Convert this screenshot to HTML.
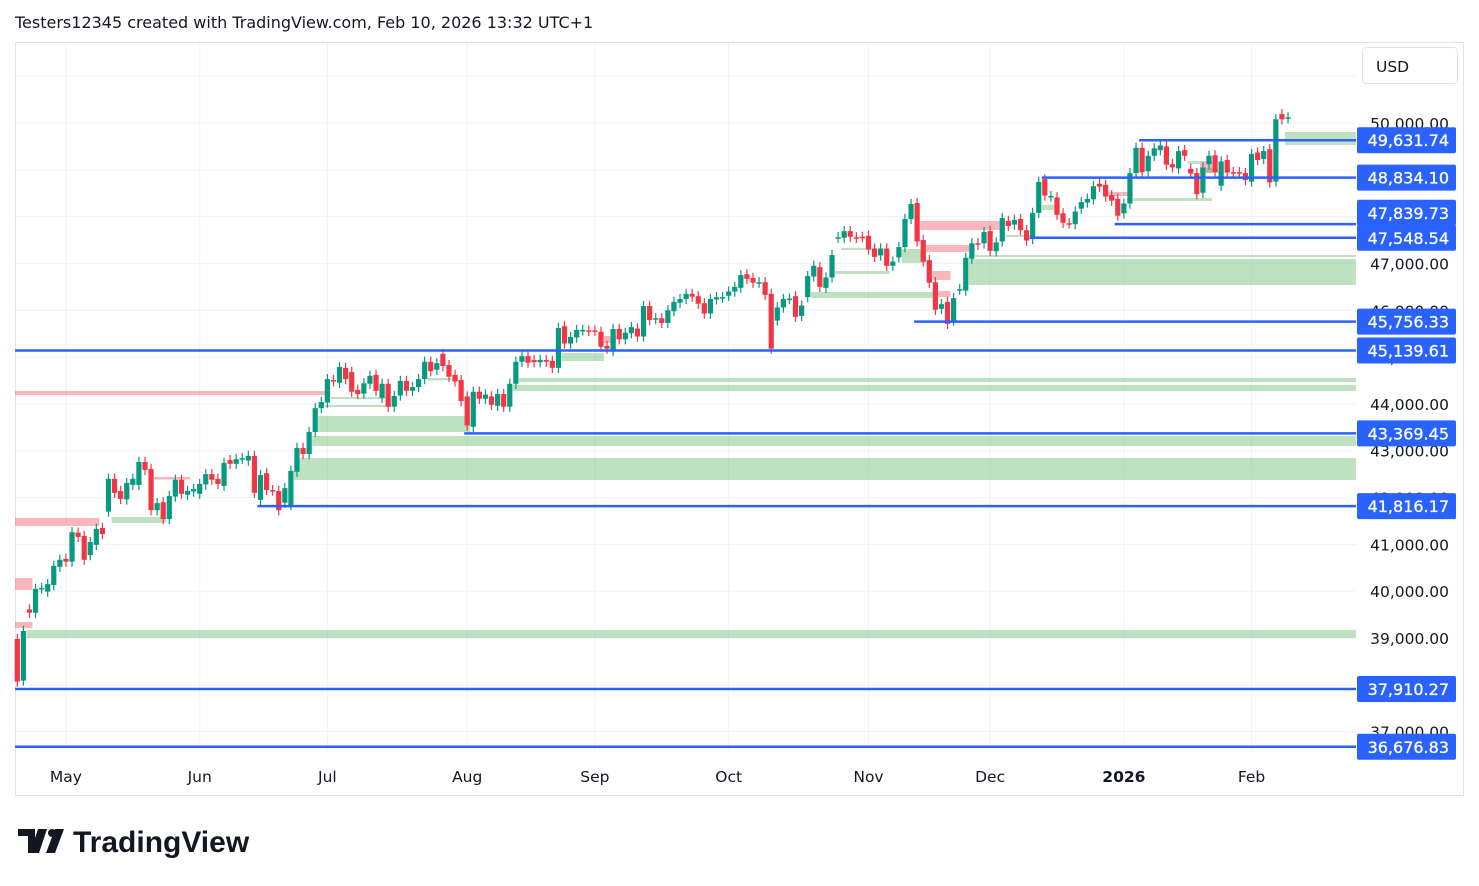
<!DOCTYPE html>
<html><head><meta charset="utf-8"><style>
html,body{margin:0;padding:0;background:#fff;width:1479px;height:886px;overflow:hidden}
svg{display:block}
text{font-family:"DejaVu Sans","Liberation Sans",sans-serif}
</style></head><body>
<svg id="c" width="1479" height="886" xmlns="http://www.w3.org/2000/svg">
<text x="15" y="28" font-size="16" fill="#131722">Testers12345 created with TradingView.com, Feb 10, 2026 13:32 UTC+1</text>
<rect x="15.5" y="42.5" width="1448" height="753" fill="#fff" stroke="#e0e3eb"/>
<g id="grid"></g>
<g id="zones"></g>
<g id="candles"></g>
<g id="levels"></g>
<g id="axis"></g>
<g id="taxis"></g>
<rect x="1362.5" y="47.5" width="95" height="36" rx="4" fill="#fff" stroke="#e0e3eb"/>
<text x="1376" y="72" font-size="15.5" fill="#131722">USD</text>
<g>
<path d="M18 829h17v24h-7v-17h-10z M38 829h9l-8 24h-9z" fill="#131722"/>
<circle cx="52" cy="833" r="4" fill="#131722"/>
<path d="M55 829h9l-9 24h-9z" fill="#131722"/>
<text x="73" y="852" font-size="30" font-weight="bold" fill="#131722" style="font-family:'Liberation Sans',sans-serif">TradingView</text>
</g>
</svg>
<script>
const opens=[38980,38090,39610,39540,40060,39990,40130,40520,40690,40630,41250,41180,40770,40990,41350,41700,42400,42140,41960,42270,42270,42760,42610,41730,41900,41540,42020,42380,42060,42130,42080,42280,42500,42400,42250,42800,42720,42830,42790,42890,41950,42520,42160,42140,41890,41840,42550,43060,42930,43400,43910,44030,44510,44450,44770,44680,44300,44220,44430,44620,44130,44430,43940,44180,44490,44280,44360,44530,44900,44730,45070,44830,44620,44510,44160,43510,44260,44110,44160,43960,44210,43940,44430,44900,45020,44940,44890,44940,44920,44770,45660,45290,45420,45570,45570,45570,45540,45240,45130,45600,45380,45510,45610,45440,46090,45810,45830,45730,45980,46160,46240,46350,46300,46150,45930,46230,46270,46310,46400,46480,46770,46690,46590,46600,46350,45780,46060,46240,46300,45880,46280,46720,46920,46480,46700,47550,47550,47690,47560,47570,47590,47320,47170,47320,46950,47130,47350,47950,48290,47500,47070,46600,46030,46180,45780,46440,46420,47100,47430,47430,47690,47260,47470,47910,47830,47950,47710,47520,48080,48800,48430,48410,48070,47860,47840,48170,48300,48370,48700,48680,48460,48380,48070,48280,48930,49470,48970,49300,49420,49500,49120,49030,49420,49020,48930,48510,49120,49310,48660,49210,48950,48950,48930,48750,49370,49230,49440,48750,50190,50100];
const closes=[38070,39150,39540,40050,40070,40150,40540,40670,40630,41260,41160,40670,41050,41330,41220,42400,42100,41970,42310,42400,42760,42590,41730,41880,41540,42030,42380,42080,42140,42180,42290,42500,42380,42290,42740,42720,42820,42840,42890,42100,42480,42160,42150,41730,42200,42570,43060,42930,43400,43910,44040,44530,44480,44790,44530,44260,44210,44440,44600,44280,44430,43940,44170,44490,44280,44360,44530,44900,44700,44870,44810,44580,44480,44060,43540,44260,44110,44200,43980,44210,43940,44430,44900,45020,44880,44890,44940,44900,44770,45620,45290,45430,45580,45580,45560,45560,45220,45180,45600,45380,45520,45640,45440,46090,45790,45830,45730,46000,46180,46240,46350,46290,46140,45930,46240,46280,46280,46400,46500,46750,46670,46590,46600,46330,45180,46060,46240,46250,45860,46100,46730,46950,46500,46700,47180,47560,47690,47570,47550,47560,47300,47140,47320,46950,47040,47350,47950,48270,47470,47040,46590,46010,46130,45710,46260,46450,47120,47430,47400,47670,47270,47450,47970,47800,47930,47710,47490,48080,48740,48450,48440,48040,47870,47850,48110,48310,48380,48650,48640,48430,48340,48020,48280,48930,49470,48950,49300,49460,49520,49110,49050,49400,49300,48920,48480,49050,49300,48950,49180,48940,48940,48930,48780,49340,49210,49400,48730,50080,50080,50120];
const levelValues=[49631.74,48834.10,47839.73,47548.54,45756.33,45139.61,43369.45,41816.17,37910.27,36676.83];
const levelLabels=["49,631.74","48,834.10","47,839.73","47,548.54","45,756.33","45,139.61","43,369.45","41,816.17","37,910.27","36,676.83"];
const levelStart=[185,169,181,167,148,0,74,40,0,0];
const tickValues=[50000,49000,48000,47000,46000,45000,44000,43000,42000,41000,40000,39000,38000,37000];
const tickLabels=["50,000.00","49,000.00","48,000.00","47,000.00","46,000.00","45,000.00","44,000.00","43,000.00","42,000.00","41,000.00","40,000.00","39,000.00","38,000.00","37,000.00"];
const monthLabels=["May","Jun","Jul","Aug","Sep","Oct","Nov","Dec","2026","Feb"];
const monthIndex=[8,30,51,74,95,117,140,160,182,203];
const zoneStart=[2,0,0,0,16,23,0,46,50,49,51,52,68,83,82,90,131,135,136,146,149,150,151,152,158,157,163,169,180,184,193,195,196,209,97];
const zoneEnd=[-1,2,2,13,24,28,51,-1,74,-1,61,60,72,-1,-1,96,151,143,140,149,162,157,153,153,-1,-1,166,171,183,196,194,196,197,-1,98];
const zoneTop=[39170,40281,39341,41563,41584,42439,44276,42844,43742,43314,43977,44147,44553,44553,44404,45087,46390,46839,47330,47309,47907,47394,46839,46412,47180,47095,47608,48249,48526,48398,49188,49188,49039,49808,45450];
const zoneBot=[39000,40025,39213,41392,41456,42385,44190,42375,43400,43101,43934,44105,44500,44468,44276,44916,46262,46775,47287,47010,47714,47245,46647,46283,47138,46540,47565,48142,48441,48334,49124,48932,48932,49530,45301];
const zoneKind=["g","p","p","p","g","p","p","g","g","g","g","g","g","g","g","g","g","g","g","g","p","p","p","p","g","g","g","g","p","g","g","p","g","g","p"];

const NS="http://www.w3.org/2000/svg";
const L=15,R=1356,T=43,B=752;
const yv=v=>123+(50000-v)*0.046818;
const xi=i=>17.3+i*6.08;
function mk(tag,attrs,parent){const e=document.createElementNS(NS,tag);for(const k in attrs)e.setAttribute(k,attrs[k]);parent.appendChild(e);return e;}
const grid=document.getElementById('grid');
for(let v=37000;v<=51000;v+=1000){const l=mk('line',{x1:L,x2:R,y1:yv(v),y2:yv(v),stroke:'#f0f3fa','stroke-width':1},grid);

}
monthIndex.forEach(i=>{const l=mk('line',{x1:xi(i),x2:xi(i),y1:T,y2:B,stroke:'#f0f3fa','stroke-width':1},grid);

});
const zg=document.getElementById('zones');
for(let k=0;k<zoneStart.length;k++){
 const x1=Math.max(L,xi(zoneStart[k])-3);const x2=zoneEnd[k]<0?R:xi(zoneEnd[k])+3;
 const y1=yv(zoneTop[k]),y2=yv(zoneBot[k]);
 const r=mk('rect',{x:x1,y:y1,width:x2-x1,height:Math.max(2,y2-y1),fill:zoneKind[k]=='g'?'rgba(76,175,80,0.36)':'rgba(242,54,69,0.36)'},zg);
 
 
}
const cg=document.getElementById('candles');
for(let i=0;i<opens.length;i++){
 const o=opens[i],c=closes[i];const up=c>=o;const col=up?'#089981':'#f23645';
 const x=xi(i);const hi=Math.max(o,c)+110,lo=Math.min(o,c)-110;
 const g=mk('g',{},cg);
 
 
 mk('line',{x1:x,x2:x,y1:yv(hi),y2:yv(lo),stroke:col,'stroke-width':1.2},g);
 const yt=yv(Math.max(o,c)),yb=yv(Math.min(o,c));
 mk('rect',{x:x-2.6,y:yt,width:5.2,height:Math.max(1.5,yb-yt),fill:col},g);
}
const lg=document.getElementById('levels');const ax=document.getElementById('axis');
tickValues.forEach((v,k)=>{const t=mk('text',{x:1449,y:yv(v)+6,'font-size':15.5,fill:'#131722','text-anchor':'end'},ax);t.textContent=tickLabels[k];

});
levelValues.forEach((v,k)=>{
 const y=yv(v);const x1=Math.max(L,xi(levelStart[k])-3);
 const l=mk('line',{x1:x1,x2:R,y1:y,y2:y,stroke:'#2962ff','stroke-width':2.5},lg);
 
 
});
// label positions: resolve overlaps bottom-up (upper label is pushed up)
const labelY=levelValues.map(yv);
for(let k=labelY.length-2;k>=0;k--){ if(labelY[k]+13>labelY[k+1]-13) labelY[k]=labelY[k+1]-25; }
levelValues.forEach((v,k)=>{
 const y=labelY[k];
 const r=mk('rect',{x:1357,y:y-13,width:99,height:26,rx:2,fill:'#2962ff'},ax);
 
 
 const t=mk('text',{x:1449,y:y+6,'font-size':16,fill:'#fff','text-anchor':'end','stroke':'#fff','stroke-width':0.3},ax);t.textContent=levelLabels[k];
 
 
});
const ta=document.getElementById('taxis');
monthLabels.forEach((m,k)=>{const t=mk('text',{x:xi(monthIndex[k]),y:782,'font-size':15.5,fill:'#131722','text-anchor':'middle','font-weight':m=='2026'?'bold':'normal'},ta);t.textContent=m;

});
</script>
</body></html>
